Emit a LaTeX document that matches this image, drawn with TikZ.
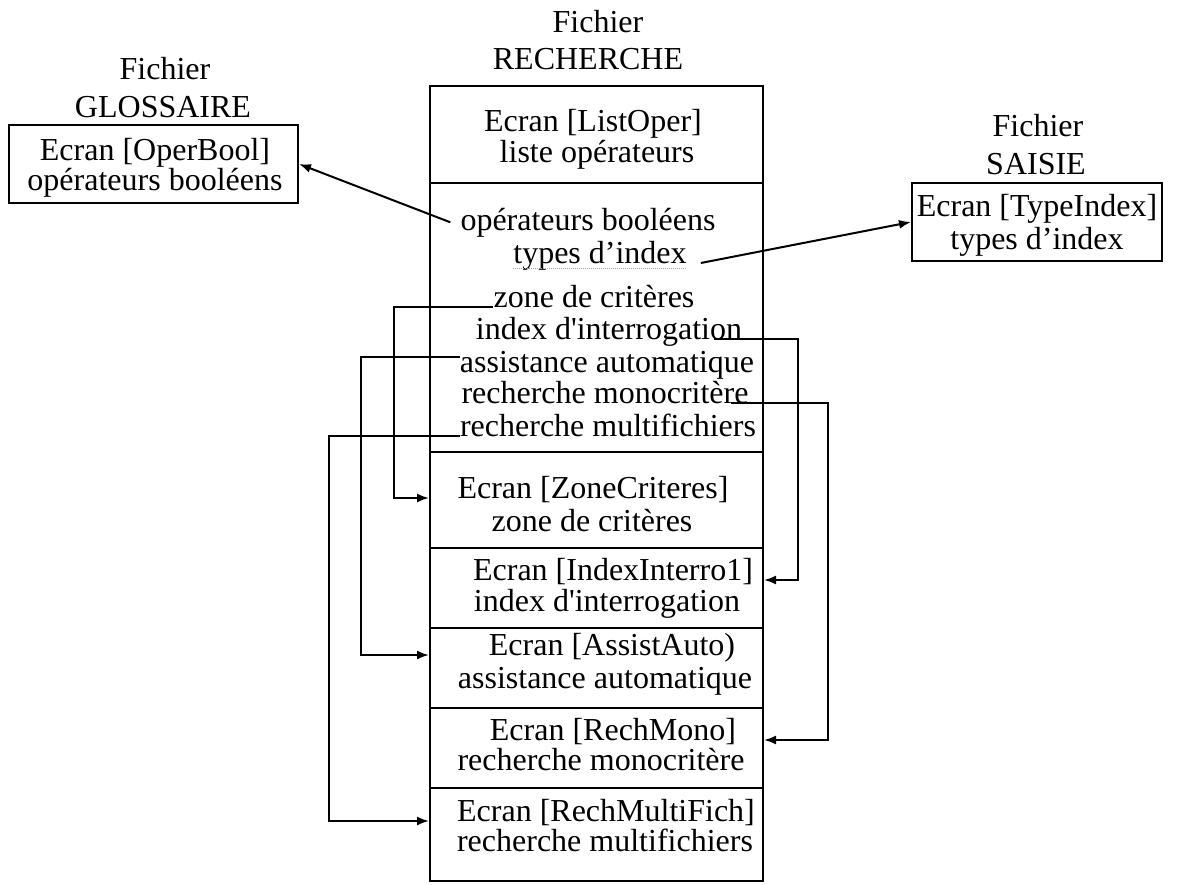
\documentclass[tikz,border=0pt]{standalone}
\usepackage{fontspec}
\setmainfont{Liberation Serif}[Ligatures=TeXOff]
\usetikzlibrary{arrows.meta,calc}
\begin{document}
\begin{tikzpicture}[x=1pt,y=-1pt,
  every node/.style={font=\fontsize{32}{32}\selectfont},
  ln/.style={inner sep=0pt, anchor=base},
  frame/.style={draw, line width=2pt, inner sep=0pt},
  sect/.style={frame, minimum width=333pt},
  link/.style={line width=2pt},
  arr/.style={link, -{Latex[length=12pt,width=9pt]}},
]
\useasboundingbox (0,0) rectangle (1182,885);

% file headings
\node[ln] (hG1) at (165,80) {Fichier};
\node[ln] (hG2) at (163,118) {GLOSSAIRE};
\node[ln] (hR1) at (598,33) {Fichier};
\node[ln] (hR2) at (588,70) {RECHERCHE};
\node[ln] (hS1) at (1038,137) {Fichier};
\node[ln] (hS2) at (1036,175) {SAISIE};

% GLOSSAIRE screen
\node[frame, minimum width=289pt, minimum height=78pt] (gl) at (153.5,164) {};
\node[ln] (glA) at (155,161) {Ecran [OperBool]};
\node[ln] (glB) at (155,191) {opérateurs booléens};

% SAISIE screen
\node[frame, minimum width=250pt, minimum height=78pt] (sa) at (1037,222) {};
\node[ln] (saA) at (1037,217) {Ecran [TypeIndex]};
\node[ln] (saB) at (1037,250) {types d’index};

% RECHERCHE file: stacked screens
\node[sect, minimum height=97pt]  (secLO)  at (596.5,134.5) {};
\node[sect, minimum height=269pt] (secMid) at (596.5,317.5) {};
\node[sect, minimum height=96pt]  (secZC)  at (596.5,500) {};
\node[sect, minimum height=80pt]  (secII)  at (596.5,588) {};
\node[sect, minimum height=80pt]  (secAA)  at (596.5,668) {};
\node[sect, minimum height=80pt]  (secRM)  at (596.5,748) {};
\node[sect, minimum height=93pt]  (secMF)  at (596.5,834.5) {};

\node[ln] (loA) at (593,132) {Ecran [ListOper]};
\node[ln] (loB) at (597,163) {liste opérateurs};

\node[ln] (tOB) at (588,230) {opérateurs booléens};
\node[ln] (tTI) at (600,263) {types d’index};
\node[ln] (tZC) at (594,307) {zone de critères};
\node[ln] (tII) at (609,339) {index d'interrogation};
\node[ln] (tAA) at (607,372) {assistance automatique};
\node[ln] (tRM) at (605,403) {recherche monocritère};
\node[ln] (tMF) at (608,436) {recherche multifichiers};

\node[ln] (eZC) at (593,498) {Ecran [ZoneCriteres]};
\node[ln] (zZC) at (592,531) {zone de critères};
\node[ln] (eII) at (613,580) {Ecran [IndexInterro1]};
\node[ln] (zII) at (607,611) {index d'interrogation};
\node[ln] (eAA) at (612,655) {Ecran [AssistAuto)};
\node[ln] (zAA) at (605,688) {assistance automatique};
\node[ln] (eRM) at (613,740) {Ecran [RechMono]};
\node[ln] (zRM) at (601,770) {recherche monocritère};
\node[ln] (eMF) at (606,821) {Ecran [RechMultiFich]};
\node[ln] (zMF) at (605,851) {recherche multifichiers};

% underline of the link text
\draw[gray!70, line width=1pt, dash pattern=on 1pt off 1pt]
  ([yshift=-5pt]tTI.base west) -- ([yshift=-5pt]tTI.base east);

% links to other files
\draw[arr] ([xshift=-10pt]tOB.west) -- (gl.east);
\draw[arr] ([xshift=14pt]tTI.base east) -- (sa.west);

% links to screens of the same file
\draw[arr] (tZC.base west) -| ([xshift=-35pt]secZC.west |- eZC.base) -- (secZC.west |- eZC.base);
\draw[arr] ([yshift=15pt]tAA.base west) -| ([xshift=-68pt]secAA.west |- eAA.base) -- (secAA.west |- eAA.base);
\draw[arr] (tMF.base west) -| ([xshift=-100pt]secMF.west |- eMF.base) -- (secMF.west |- eMF.base);
\draw[arr] ([xshift=-28pt]tII.base east) -| ([xshift=34pt]secII.east |- eII.base) -- (secII.east |- eII.base);
\draw[arr] ([xshift=-18pt]tRM.base east) -| ([xshift=64pt]secRM.east |- eRM.base) -- (secRM.east |- eRM.base);
\end{tikzpicture}
\end{document}
